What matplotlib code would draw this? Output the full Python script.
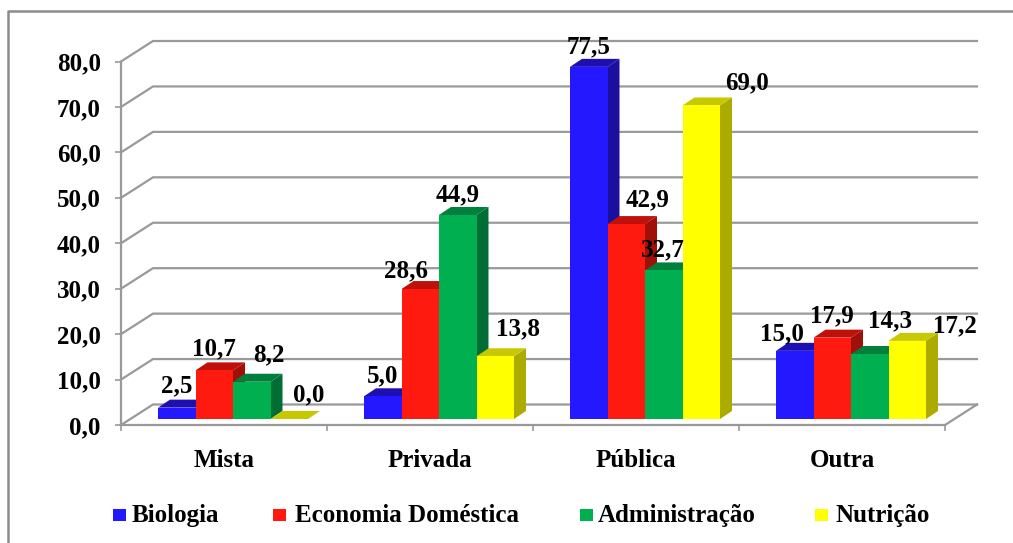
import matplotlib
matplotlib.use('Agg')
import matplotlib.pyplot as plt
from matplotlib.patches import Polygon, Rectangle

categories = ['Mista', 'Privada', 'Pública', 'Outra']
series_names = ['Biologia', 'Economia Doméstica', 'Administração', 'Nutrição']
biologia = [2.5, 5.0, 77.5, 15.0]
economia = [10.7, 28.6, 42.9, 17.9]
administracao = [8.2, 44.9, 32.7, 14.3]
nutricao = [0.0, 13.8, 69.0, 17.2]
y_ticks = [0, 10, 20, 30, 40, 50, 60, 70, 80]

# front, top, side colours of each series
front = ['#2318FF', '#FF1A10', '#00B050', '#FFFF00']
top = ['#1E10B0', '#C0100A', '#00803C', '#C8C800']
side = ['#1A0F9E', '#A01008', '#006E34', '#ABAB00']

# hand placed labels in the original, pixel offset from the bar's front top edge
label_dx = [[0, 0, 17, 19], [0, -14, 0, 23], [0, 21, -1, 46], [-13, 0, 20, 48]]
label_dy = [[15, 15, 20, 18], [14, 12, 14, 21], [14, 18, 14, 16], [11, 15, 27, 9]]

W, H = 1013, 543
GRAY = '#999999'
FS = 18
plt.rcParams['font.family'] = ['Liberation Serif', 'DejaVu Serif']
plt.rcParams['font.weight'] = 'bold'


def comma(v):
    return ('%.1f' % v).replace('.', ',')


fig = plt.figure(figsize=(W / 100, H / 100), dpi=100)
ax = fig.add_axes([121 / W, (H - 425) / H, 824 / W, 363.5 / H])
ax.set_xlim(0, 4)
ax.set_ylim(0, 80)
ax.patch.set_visible(False)

# pixel sizes turned into data units
px_x = 4 / 824
px_y = 80 / 363.5
wall_dx, wall_dy = 32 * px_x, 20.5 * px_y
bar_dx, bar_dy = 12 * px_x, 8 * px_y
floor_y = 6 * px_y
bar_w = 37.5 * px_x
bar_start = 37 * px_x

# walls and gridlines
for v in y_ticks:
    ax.plot([0, wall_dx, 4 + wall_dx], [v, v + wall_dy, v + wall_dy], color=GRAY, lw=1.6,
            clip_on=False, zorder=1, solid_joinstyle='miter')
ax.plot([4, 4 + wall_dx], [0, wall_dy], color=GRAY, lw=1.6, clip_on=False, zorder=1)

for s in ['top', 'right']:
    ax.spines[s].set_visible(False)
for s in ['left', 'bottom']:
    ax.spines[s].set_color(GRAY)
    ax.spines[s].set_linewidth(1.6)
    ax.spines[s].set_zorder(2)

ax.set_yticks(y_ticks)
ax.set_yticklabels([comma(v) for v in y_ticks])
ax.set_xticks([0, 1, 2, 3, 4])
ax.set_xticklabels([])
ax.set_xticks([0.5, 1.5, 2.5, 3.5], minor=True)
ax.set_xticklabels(categories, minor=True)
ax.tick_params(axis='both', which='major', color=GRAY, width=1.2, length=4.5)
ax.tick_params(axis='x', which='minor', length=0, pad=17, labelsize=FS)
ax.tick_params(axis='y', labelsize=FS, pad=10)

all_series = [biologia, economia, administracao, nutricao]
for c in range(len(categories)):
    for s, values in enumerate(all_series):
        v = values[c]
        x0 = c + bar_start + s * bar_w
        x1 = x0 + bar_w
        y0 = floor_y
        y1 = floor_y + v
        z = 3 + c * 4 + s
        ax.add_patch(Polygon([(x1, y0), (x1 + bar_dx, y0 + bar_dy), (x1 + bar_dx, y1 + bar_dy), (x1, y1)],
                             fc=side[s], ec='none', clip_on=False, zorder=z))
        ax.add_patch(Polygon([(x0, y1), (x0 + bar_dx, y1 + bar_dy), (x1 + bar_dx, y1 + bar_dy), (x1, y1)],
                             fc=top[s], ec='none', clip_on=False, zorder=z))
        ax.add_patch(Rectangle((x0, y0), bar_w, v, fc=front[s], ec='none', clip_on=False, zorder=z + 0.5))
        ax.annotate(comma(v), (x0 + bar_w / 2, y1),
                    xytext=(label_dx[c][s], label_dy[c][s]), textcoords='offset pixels',
                    ha='center', va='baseline', fontsize=FS, color='black', zorder=40,
                    annotation_clip=False)

# chart frame, no right or bottom edge in the original
fig.add_artist(plt.Line2D([8 / W, 8 / W, 1], [0, 1 - 11 / H, 1 - 11 / H], color='#8C8C8C', lw=1.8))

# legend
legend_box = [113, 273, 580, 815]
legend_text = [132, 295, 598, 835]
for name, color, bx, tx in zip(series_names, front, legend_box, legend_text):
    fig.add_artist(Rectangle((bx / W, 1 - 521 / H), 13 / W, 12 / H, fc=color, ec='none',
                             transform=fig.transFigure))
    fig.text(tx / W, 1 - 522 / H, name, fontsize=FS, ha='left', va='baseline', color='black')

fig.savefig('out.png', dpi=100)
